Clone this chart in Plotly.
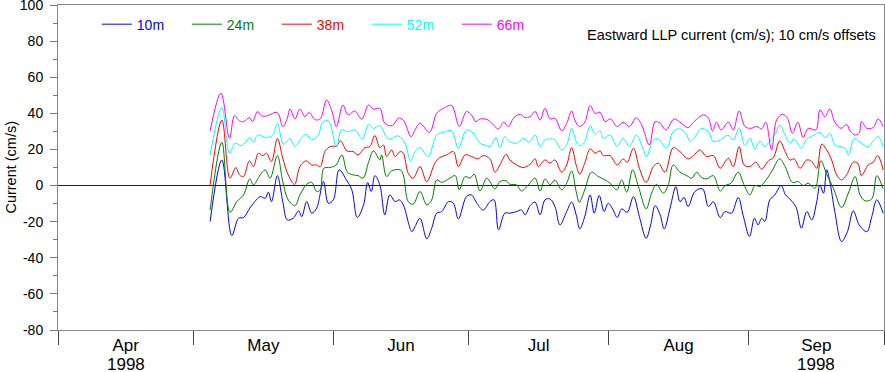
import sys
import pandas as pd
import plotly.graph_objects as go

# ---------------- data (values as plotted, 10 cm/s offsets already included) -------------
# time axis: days since 1998-04-01 00:00
BASE_DATE = "1998-04-01"

DAYS_10M = [33.7,36.3,38.5,40.0,41.1,42.5,43.6,44.8,45.9,46.6,47.3,48.6,49.8,50.8,52.1,53.3,54.0,55.1,56.2,57.3,
            58.8,59.9,61.0,62.3,63.9,65.1,66.3,67.7,68.6,69.4,70.2,71.3,
            72.4,73.5,74.7,75.6,76.5,78.4,79.1,80.2,81.7,82.8,83.9,85.0,86.5,87.6,88.7,90.5,91.6,92.8,94.2,95.7,
            96.6,97.6,99.0,100.1,101.6,102.7,103.5,104.6,105.7,106.8,107.9,109.0,
            110.1,111.2,112.7,113.8,114.8,115.6,116.7,117.9,118.8,119.9,121.0,121.9,123.0,123.9,124.9,126.1,127.5,128.8,130.3,131.3,
            132.3,133.4,134.3,135.6,136.9,137.8,138.7,139.6,141.1,142.8,144.1,145.2,146.7,
            147.8,149.2,150.7,151.8,153.2,154.3,155.1,155.9,156.6,157.7,158.8,160.2,161.2,162.7,163.6,164.7,165.9,167.0,168.1,168.8,
            169.6,170.3,171.0,172.1,173.6,174.9,176.2,177.5,179.2,180.3,181.4,182.8]
U_10M = [-19.9,14.2,-27.7,-18.1,-17.7,-12.5,-8.9,-6.1,-7.0,-3.7,-8.9,5.5,-8.9,-19.0,-18.1,-14.0,-17.2,-8.9,-15.3,-12.5,
         2.2,-9.8,-7.9,8.7,3.1,-2.4,-17.7,-10.7,1.7,-3.3,5.5,0.4,
         -16.2,-5.2,-8.9,-7.9,-10.7,-25.5,-22.7,-18.1,-29.5,-23.6,-15.3,-14.4,-8.9,-9.8,-18.5,-6.1,-5.2,-9.8,-13.5,-8.9,
         -7.9,-24.5,-15.3,-15.3,-14.4,-13.5,-16.2,-11.1,-9.2,-16.2,-7.9,-7.4,
         -11.6,-21.8,-14.4,-9.2,-16.2,-24.0,-17.2,-5.2,-15.3,-5.5,-14.4,-9.8,-13.5,-17.7,-12.9,-14.8,-6.1,-17.2,-29.2,-21.8,
         -11.1,-16.2,-24.0,-12.5,-0.6,-8.9,-6.6,-11.6,-3.3,-1.8,-11.6,-8.9,-17.7,
         -14.4,-15.3,-6.6,-16.6,-28.2,-18.1,-21.8,-18.1,-19.9,-7.9,-5.2,0.0,-5.2,-8.9,-12.5,-23.6,-14.4,-19.0,-8.9,0.4,
         -4.2,8.7,2.2,-14.4,-31.0,-25.5,-14.0,-21.8,-25.5,-17.2,-7.9,-15.3]

DAYS_24M = [33.7,36.3,38.1,39.6,41.1,42.5,43.3,44.8,45.9,47.0,48.6,49.8,51.0,52.5,53.6,55.1,56.2,57.3,58.1,58.9,
            60.3,61.6,62.9,64.1,65.4,66.5,67.6,68.8,69.9,71.3,
            71.7,72.8,73.9,75.8,76.5,77.6,78.7,80.2,81.7,82.8,83.9,85.0,86.8,88.0,88.9,90.2,91.3,92.2,93.5,95.0,
            96.8,97.9,99.3,100.1,101.6,102.7,104.2,105.7,106.8,107.9,109.0,
            110.1,111.6,112.7,113.8,114.8,115.5,116.7,118.2,119.7,121.2,122.3,123.8,124.9,126.0,127.3,128.6,130.3,131.5,132.6,134.1,
            135.2,136.3,137.8,139.3,140.4,141.5,142.6,143.7,145.2,146.7,
            147.8,149.1,150.7,152.0,153.3,154.4,155.5,156.6,158.1,159.9,161.1,162.7,164.0,165.1,166.2,167.7,169.0,170.3,171.8,173.6,
            175.1,176.6,177.7,178.8,180.3,181.4,182.8]
U_24M = [-13.5,24.0,-14.8,-8.9,-5.2,3.7,0.4,5.9,8.7,4.1,16.6,2.2,-7.9,-11.1,-5.2,0.7,1.8,-3.3,-2.4,9.6,
         10.0,11.4,17.0,7.4,5.9,5.5,4.1,12.9,19.2,14.2,
         17.0,5.0,8.1,8.7,5.9,-8.9,-10.3,-3.3,-10.7,-7.9,3.1,1.8,4.1,5.5,-2.4,5.0,4.1,6.3,-3.0,4.1,
         -1.8,2.2,2.6,0.7,0.4,-3.0,0.4,4.1,-3.0,3.7,0.4,
         3.1,-2.4,1.3,8.1,-3.3,-9.2,-2.4,7.4,5.0,3.1,1.3,-2.4,3.1,-3.7,8.7,-0.6,-12.9,-4.2,0.7,-4.2,
         0.4,11.4,7.4,5.5,4.1,7.4,4.4,3.7,5.5,-3.0,
         0.0,1.3,7.4,0.4,-5.2,0.0,-0.6,2.2,7.7,14.8,10.5,1.8,2.2,0.0,1.3,-1.5,13.7,6.3,-1.5,-12.2,
         -4.2,5.0,-5.2,-8.5,-7.4,5.5,-1.8]

DAYS_38M = [33.7,36.3,38.1,39.4,40.2,41.1,42.4,43.3,44.4,45.4,46.2,47.3,48.6,49.8,51.0,52.4,53.6,55.0,56.2,57.3,
            58.1,59.2,60.3,61.7,62.6,64.0,65.4,66.5,68.0,69.1,70.2,71.3,
            72.1,72.8,73.9,74.7,75.8,76.5,77.6,78.7,80.2,81.7,83.5,84.6,86.1,87.6,88.7,90.2,91.6,93.1,94.2,95.7,
            96.8,97.9,99.3,100.1,101.6,103.1,104.6,105.7,106.4,107.9,109.0,
            110.1,111.6,112.7,113.8,114.8,115.6,116.7,117.9,119.0,120.1,120.8,122.3,123.9,125.2,126.1,127.5,128.8,130.3,131.9,133.0,
            134.5,136.3,137.8,139.6,140.8,142.2,143.7,145.2,146.7,
            148.5,149.6,150.9,152.0,153.3,154.6,155.9,157.4,158.5,159.9,161.1,162.2,163.1,164.4,165.9,167.0,168.1,169.2,170.3,171.4,
            172.5,173.6,174.7,176.2,177.2,178.0,179.5,180.6,181.6,182.8]
U_38M = [0.4,36.3,4.1,10.0,5.9,5.0,13.7,10.5,17.9,16.6,17.9,13.3,26.2,15.1,5.9,0.7,10.5,13.7,11.4,11.4,
         10.5,19.2,21.6,22.0,24.7,19.2,18.8,17.0,21.0,21.6,27.7,21.0,
         22.5,16.1,19.7,16.1,18.8,17.9,6.8,4.1,10.5,2.2,12.4,15.5,17.0,18.8,10.5,17.0,16.1,14.8,16.6,14.8,
         7.4,11.4,17.3,14.2,11.4,10.0,11.8,14.8,10.5,14.2,12.4,
         14.2,7.4,11.4,21.0,11.4,6.3,12.4,20.3,17.9,19.2,16.6,16.6,11.4,14.8,12.9,20.7,9.6,1.8,10.5,12.4,
         7.4,21.0,18.8,14.8,16.6,19.7,16.1,16.6,9.6,
         15.1,10.5,21.6,11.4,10.5,12.9,9.2,13.7,15.5,24.7,18.8,14.2,14.8,9.6,14.2,13.3,9.6,22.9,19.7,14.2,
         5.9,3.1,5.9,12.9,12.4,5.5,11.4,12.9,16.6,8.7]

DAYS_52M = [33.7,36.3,38.0,39.2,40.7,42.5,43.3,44.2,46.2,47.6,48.6,49.9,50.8,51.4,52.5,54.0,55.0,56.2,57.7,58.6,
            59.9,61.7,62.8,64.3,65.8,67.4,68.8,69.9,71.3,
            73.2,75.4,76.9,78.1,79.1,80.2,82.0,83.9,85.4,87.2,88.7,90.5,92.0,93.5,94.6,95.7,97.0,97.9,99.0,100.1,
            101.6,103.1,104.4,105.7,106.8,107.9,109.0,
            110.1,111.6,112.7,113.8,114.8,115.6,116.7,117.9,119.0,120.1,120.8,122.3,123.9,125.2,126.6,128.1,129.3,130.4,131.9,133.0,
            134.8,136.3,137.8,139.3,140.0,140.9,142.6,144.1,145.2,146.7,
            148.4,149.6,150.9,152.2,153.3,154.4,155.5,156.6,157.7,159.0,159.9,161.1,162.2,163.1,164.6,165.9,167.3,168.8,169.9,171.0,
            172.1,173.2,174.4,175.1,176.4,177.7,179.5,180.6,181.7,182.8]
U_52M = [17.0,43.2,17.9,23.4,22.1,26.6,24.0,28.0,26.6,28.0,34.5,22.9,24.7,26.2,21.6,26.6,28.4,25.3,28.0,35.1,
         35.8,21.6,30.8,29.9,30.8,25.8,33.9,31.7,33.2,
         25.8,27.5,23.4,13.7,18.8,21.0,16.1,28.0,29.5,30.3,20.7,30.8,29.0,23.4,22.5,21.6,26.6,21.0,27.1,24.4,
         23.4,26.2,24.0,28.0,21.6,25.3,25.8,
         25.3,19.7,22.5,31.7,24.4,22.1,24.4,33.2,28.4,30.3,26.2,28.0,21.6,26.2,21.6,28.0,22.5,16.1,25.3,25.8,
         20.7,29.9,31.4,28.0,24.4,26.2,31.7,29.5,24.4,25.3,
         28.0,25.3,31.7,22.1,26.2,20.3,24.7,21.6,24.7,29.0,33.6,28.0,23.4,25.8,20.7,25.8,27.7,29.5,26.6,29.0,
         22.5,21.6,20.7,16.6,26.2,24.0,21.6,24.7,27.1,21.6]

DAYS_66M = [33.7,36.1,38.0,39.1,40.2,41.1,42.4,43.1,44.2,45.1,46.2,48.6,49.8,50.8,51.4,52.5,53.6,54.7,55.7,56.6,
            57.3,58.2,59.5,60.6,61.7,63.1,64.3,65.7,67.3,68.8,69.9,71.3,
            72.4,74.1,75.4,76.5,78.2,79.1,80.2,82.3,83.9,85.4,87.2,88.9,90.5,91.6,92.6,93.5,95.3,97.6,98.7,99.8,
            100.9,102.4,103.5,104.6,105.7,106.8,107.9,109.0,
            110.1,111.6,112.7,113.8,114.5,115.5,116.7,117.9,119.0,120.1,121.2,122.4,123.9,125.2,126.6,128.1,129.3,131.0,132.3,133.4,
            134.7,136.5,137.8,139.6,140.9,143.0,144.1,145.0,145.9,
            146.9,148.5,149.6,150.9,152.2,153.5,154.8,155.9,156.8,158.1,159.2,160.5,161.6,162.7,163.9,165.1,166.2,167.9,168.8,169.9,
            171.0,172.1,173.5,174.7,175.5,176.6,177.5,178.0,179.2,180.6,181.7,182.8]
U_66M = [30.3,51.1,26.2,38.7,35.8,35.4,37.6,35.4,41.0,38.6,38.6,40.4,32.7,37.3,42.4,36.9,42.4,38.2,40.6,37.3,
         36.3,37.3,47.4,41.9,32.7,44.6,39.1,41.3,36.9,44.6,42.4,42.8,
         34.5,33.2,37.3,36.3,27.1,30.8,34.5,29.5,40.0,42.8,44.3,32.7,41.0,39.1,35.4,36.9,36.3,31.4,35.1,32.7,
         37.3,39.5,37.6,38.2,41.0,36.3,42.8,36.9,
         37.3,30.3,34.5,41.3,36.3,32.7,35.1,44.3,40.0,40.6,35.4,36.9,32.7,35.1,32.7,37.6,33.6,22.5,35.4,34.5,
         30.8,36.9,35.1,32.1,35.4,39.1,37.3,30.3,35.1,
         30.8,35.1,30.8,41.3,32.7,31.7,32.7,31.4,35.1,19.7,36.3,39.5,37.3,29.0,35.1,26.6,31.7,30.8,41.9,38.2,
         42.4,35.1,31.7,33.9,30.3,28.0,29.0,35.4,31.7,32.1,36.9,32.7]

SERIES_NAMES = ["10m", "24m", "38m", "52m", "66m"]
SERIES_COLORS = ["#0000ff", "#008000", "#ff0000", "#00ffff", "#ff00ff"]
SERIES_DAYS = [DAYS_10M, DAYS_24M, DAYS_38M, DAYS_52M, DAYS_66M]
SERIES_VALUES = [U_10M, U_24M, U_38M, U_52M, U_66M]

MONTH_STARTS = ["1998-04-01", "1998-05-01", "1998-06-01", "1998-07-01",
                "1998-08-01", "1998-09-01", "1998-10-01"]
MONTH_LABELS = ["Apr", "May", "Jun", "Jul", "Aug", "Sep"]
YEAR_LABEL = "1998"
YEAR_UNDER = [0, 5]          # month indices that carry the year label below

Y_TICKS = [-80, -60, -40, -20, 0, 20, 40, 60, 80, 100]
Y_TICK_LABELS = ["-80", "-60", "-40", "-20", "0", "20", "40", "60", "80", "100"]
Y_RANGE = [-80, 100]
Y_TITLE = "Current (cm/s)"
PLOT_TITLE = "Eastward LLP current (cm/s); 10 cm/s offsets"

# ---------------- figure ----------------
base = pd.Timestamp(BASE_DATE)
FONT = "Liberation Sans, Arial, Helvetica, sans-serif"

fig = go.Figure()
for name, color, days, vals in zip(SERIES_NAMES, SERIES_COLORS, SERIES_DAYS, SERIES_VALUES):
    if len(days) != len(vals):
        print(f"length mismatch for {name}: {len(days)} vs {len(vals)}", file=sys.stderr)
    t = base + pd.to_timedelta(days, unit="D")
    fig.add_trace(go.Scatter(
        x=t, y=vals, mode="lines",
        line=dict(color=color, width=1, shape="spline", smoothing=1.0),
        name=f'<span style="color:{color}">{name}</span>',
        hoverinfo="skip",
    ))

starts = pd.to_datetime(MONTH_STARTS)
mids = [starts[i] + (starts[i + 1] - starts[i]) / 2 for i in range(len(starts) - 1)]

annotations = [
    dict(text=Y_TITLE, textangle=-90, xref="paper", yref="paper",
         x=-0.058, y=0.5, xanchor="center", yanchor="middle", showarrow=False,
         font=dict(size=14.5, family=FONT, color="black")),
    dict(text=PLOT_TITLE, xref="paper", yref="paper",
         x=0.993, y=0.907, xanchor="right", yanchor="middle", showarrow=False,
         font=dict(size=14.5, family=FONT, color="black")),
]
for i in YEAR_UNDER:
    annotations.append(dict(text=YEAR_LABEL, xref="x", yref="paper", x=mids[i], y=0,
                            xanchor="center", yanchor="middle", yshift=-34, showarrow=False,
                            font=dict(size=17, family=FONT, color="black")))

fig.update_layout(
    width=885, height=372,
    margin=dict(l=58, r=1, t=5, b=42, autoexpand=False),
    paper_bgcolor="white", plot_bgcolor="white",
    font=dict(family=FONT, color="black"),
    showlegend=True,
    legend=dict(
        orientation="h", x=0.047, xanchor="left", y=0.989, yanchor="top",
        font=dict(size=14, family=FONT),
        bgcolor="rgba(0,0,0,0)", borderwidth=0,
        entrywidth=45, entrywidthmode="pixels",
        itemwidth=30, tracegroupgap=0,
    ),
    xaxis=dict(
        type="date", automargin=False,
        range=[starts[0], starts[-1]],
        showgrid=False, zeroline=False,
        showline=True, mirror=True, linecolor="#888888", linewidth=1,
        tickmode="array", tickvals=mids, ticktext=MONTH_LABELS,
        ticks="", ticklabelstandoff=0,
        tickfont=dict(size=17, family=FONT, color="black"),
        minor=dict(tickmode="array", tickvals=list(starts), ticks="outside",
                   ticklen=14, tickwidth=1, tickcolor="#444444", showgrid=False),
    ),
    yaxis=dict(
        range=Y_RANGE, automargin=False,
        tickmode="array", tickvals=Y_TICKS, ticktext=Y_TICK_LABELS,
        ticklabeloverflow="allow",
        showgrid=False,
        zeroline=True, zerolinecolor="#222222", zerolinewidth=1,
        showline=True, mirror=True, linecolor="#888888", linewidth=1,
        ticks="outside", ticklen=7, tickwidth=1, tickcolor="#777777",
        ticklabelstandoff=4,
        tickfont=dict(size=14, family=FONT, color="black"),
        minor=dict(dtick=10, tick0=0, ticks="outside", ticklen=4, tickwidth=1,
                   tickcolor="#777777", showgrid=False),
    ),
    annotations=annotations,
)

# the page body has a default 8px margin; remove it so the 885x372 figure fills the window
fig.write_html("out.html", post_script="document.body.style.margin='0';",
               config={"displayModeBar": False})
